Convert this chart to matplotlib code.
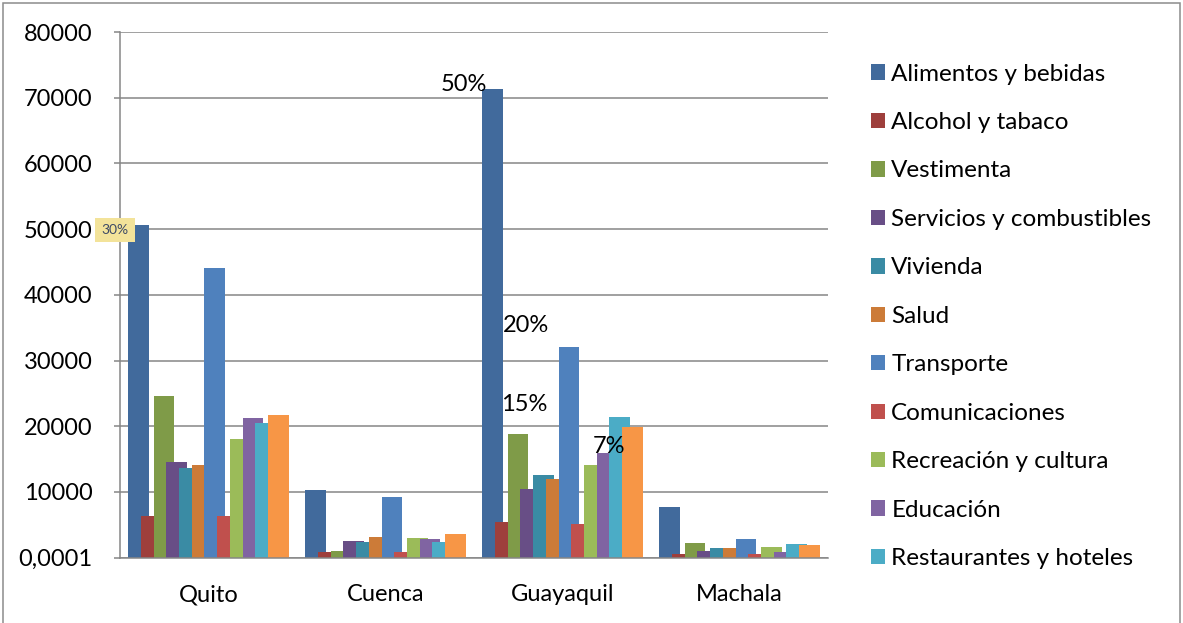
import numpy as np
import matplotlib
matplotlib.use("Agg")
import matplotlib.pyplot as plt
from matplotlib.patches import Rectangle, Patch

plt.rcParams['font.family'] = ['Lato', 'DejaVu Sans']

# data
ciudades = ["Quito", "Cuenca", "Guayaquil", "Machala"]
rubros = ["Alimentos y bebidas", "Alcohol y tabaco", "Vestimenta",
          "Servicios y combustibles", "Vivienda", "Salud", "Transporte",
          "Comunicaciones", "Recreación y cultura", "Educación",
          "Restaurantes y hoteles", "Bienes y servicios diversos"]
quito = [50600, 6400, 24600, 14600, 13650, 14050, 44050, 6350, 18100, 21200, 20550, 21750]
cuenca = [10350, 820, 1020, 2590, 2340, 3100, 9280, 820, 3000, 2900, 2340, 3560]
guayaquil = [71300, 5400, 18800, 10400, 12550, 12000, 32100, 5150, 14050, 15950, 21400, 19850]
machala = [7750, 600, 2280, 1020, 1480, 1520, 2800, 560, 1580, 910, 2080, 1930]
y_ticks = [0, 10000, 20000, 30000, 40000, 50000, 60000, 70000, 80000]
y_labels = ["0,0001", "10000", "20000", "30000", "40000", "50000", "60000", "70000", "80000"]
etiquetas = ["50%", "20%", "15%", "7%"]

colores = ["#416A9C", "#9E3F3C", "#7F9B48", "#684E86", "#3A8BA4", "#CC7B38",
           "#4F81BD", "#C0504D", "#9BBB59", "#8064A2", "#4BACC6", "#F79646"]

fig = plt.figure(figsize=(11.83, 6.23), dpi=100)
ax = fig.add_axes([0.1014, 0.1048, 0.5986, 0.8438])

x = np.arange(len(ciudades))
paso = 0.0718
ancho = 0.1167
for i, nombre in enumerate(rubros):
    vals = [quito[i], cuenca[i], guayaquil[i], machala[i]]
    ax.bar(x + (i - 5.5) * paso, vals, width=ancho, color=colores[i], linewidth=0, zorder=2)

ax.set_xlim(-0.5, 3.5)
ax.set_ylim(0, 80000)
ax.set_yticks(y_ticks)
ax.set_yticklabels(y_labels)
ax.set_xticks(x)
ax.set_xticklabels(ciudades)
ax.tick_params(axis='y', length=4, width=1.1, color='#868686', pad=15.5, labelsize=17)
ax.tick_params(axis='x', length=0, pad=19, labelsize=17)
ax.yaxis.grid(True, color='#868686', linewidth=1.1)
ax.set_axisbelow(True)
for s in ['top', 'right']:
    ax.spines[s].set_visible(False)
for s in ['left', 'bottom']:
    ax.spines[s].set_color('#868686')
    ax.spines[s].set_linewidth(1.1)

# percentage notes
ax.text(-0.528, 49870, "30%", fontsize=10, color='#3d4a66', ha='center', va='center',
        clip_on=False, bbox=dict(boxstyle='square,pad=0.45', fc='#F3E39A', ec='none'))
pos_x = [1.44, 1.795, 1.784, 2.264]
pos_y = [71950, 35410, 23390, 16990]
for t, px, py in zip(etiquetas, pos_x, pos_y):
    ax.text(px, py, t, fontsize=17, ha='center', va='center', zorder=3)

handles = [Patch(facecolor=colores[i], edgecolor='none') for i in range(11)]
fig.legend(handles, rubros[:11], loc='upper left', bbox_to_anchor=(0.736, 0.898),
           frameon=False, fontsize=17.5, handlelength=0.6, handleheight=0.6,
           handletextpad=0.25, labelspacing=1.13, borderpad=0, borderaxespad=0)

fig.patches.append(Rectangle((3 / 1183, -0.01), 1177 / 1183, 1.01 - 3 / 623, fill=False,
                             edgecolor='#8C8C8C', linewidth=1.1, transform=fig.transFigure))

fig.savefig("out.png", dpi=100)
